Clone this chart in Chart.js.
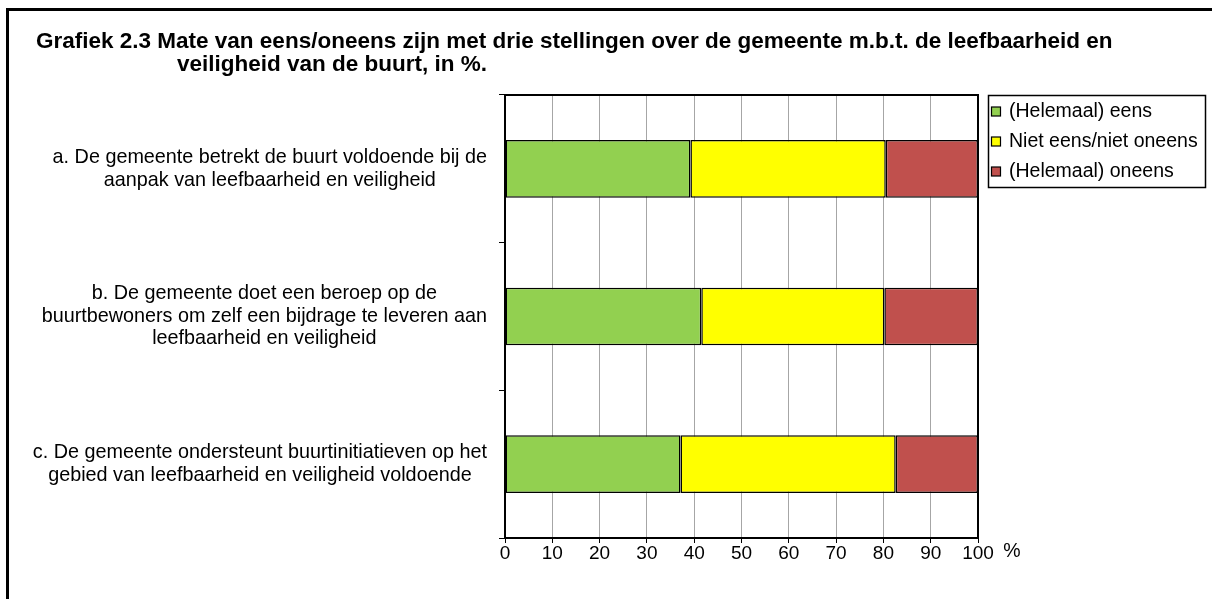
<!DOCTYPE html>
<html><head><meta charset="utf-8">
<script src="https://cdn.jsdelivr.net/npm/chart.js@4"></script>
<style>html,body{margin:0;padding:0;background:#fff}#wrap{width:1212px;height:599px;position:relative}</style>
</head><body><div id="wrap"><canvas id="c" width="1212" height="599"></canvas></div>
<script>
const titleLines = [
  "Grafiek 2.3 Mate van eens/oneens zijn met drie stellingen over de gemeente m.b.t. de leefbaarheid en",
  "veiligheid van de buurt, in %."
];
const categories = [
  ["a. De gemeente betrekt de buurt voldoende bij de", "aanpak van leefbaarheid en veiligheid"],
  ["b. De gemeente doet een beroep op de", "buurtbewoners om zelf een bijdrage te leveren aan", "leefbaarheid en veiligheid"],
  ["c. De gemeente ondersteunt buurtinitiatieven op het", "gebied van leefbaarheid en veiligheid voldoende"]
];
const seriesNames = ["(Helemaal) eens", "Niet eens/niet oneens", "(Helemaal) oneens"];
const eens = [39.2, 41.5, 37.1];
const neutraal = [41.3, 38.7, 45.5];
const oneens = [19.5, 19.8, 17.4];
const seriesColors = ["#92D050", "#FFFF00", "#C0504D"];
const xTicks = [0, 10, 20, 30, 40, 50, 60, 70, 80, 90, 100];
const xUnit = "%";

const FONT = "'Liberation Sans', Arial, sans-serif";

const overlay = {
  id: 'overlay',
  afterDraw(chart) {
    const ctx = chart.ctx;
    const a = chart.chartArea;
    const ys = chart.scales.y;
    ctx.save();
    // outer frame
    ctx.strokeStyle = '#000'; ctx.lineWidth = 3;
    ctx.beginPath(); ctx.moveTo(7.5, 599); ctx.lineTo(7.5, 9.5); ctx.lineTo(1212, 9.5); ctx.stroke();
    // plot top + right border
    ctx.lineWidth = 2;
    ctx.beginPath(); ctx.moveTo(a.left, a.top); ctx.lineTo(a.right, a.top); ctx.lineTo(a.right, a.bottom); ctx.stroke();
    // title
    ctx.fillStyle = '#000';
    ctx.font = "bold 22.5px " + FONT;
    ctx.textAlign = 'left'; ctx.textBaseline = 'middle';
    ctx.fillText(titleLines[0], 36, 42);
    ctx.fillText(titleLines[1], 177, 65);
    // category labels
    ctx.font = "19.8px " + FONT;
    ctx.textAlign = 'center';
    const lh = 22.5;
    categories.forEach((lines, i) => {
      const yc = ys.getPixelForValue(i);
      const w = Math.max(...lines.map(l => ctx.measureText(l).width));
      const cx = 487 - w / 2;
      lines.forEach((l, j) => {
        ctx.fillText(l, cx, yc + (j - (lines.length - 1) / 2) * lh);
      });
    });
    // unit
    ctx.font = "19.5px " + FONT;
    ctx.fillText(xUnit, 1012, a.bottom + 14);
    // legend
    ctx.lineWidth = 1.5; ctx.strokeStyle = '#000';
    ctx.strokeRect(988.5, 95.5, 217, 92);
    ctx.textAlign = 'left';
    chart.data.datasets.forEach((ds, i) => {
      const y = 112 + i * 30;
      ctx.fillStyle = ds.backgroundColor;
      ctx.fillRect(991.5, y - 5, 9, 9);
      ctx.lineWidth = 1.2;
      ctx.strokeRect(991.5, y - 5, 9, 9);
      ctx.fillStyle = '#000';
      ctx.fillText(ds.label, 1009, y);
    });
    ctx.restore();
  }
};

new Chart(document.getElementById('c'), {
  type: 'bar',
  data: {
    labels: categories,
    datasets: [
      { label: seriesNames[0], data: eens, backgroundColor: seriesColors[0] },
      { label: seriesNames[1], data: neutraal, backgroundColor: seriesColors[1] },
      { label: seriesNames[2], data: oneens, backgroundColor: seriesColors[2] }
    ].map(d => Object.assign(d, { borderColor: '#000', borderWidth: 1.5, borderSkipped: false, barPercentage: 0.39, categoryPercentage: 1 }))
  },
  options: {
    indexAxis: 'y',
    responsive: false,
    animation: false,
    devicePixelRatio: 1,
    layout: { padding: { top: 95, right: 234, left: 0, bottom: 0 } },
    plugins: { legend: { display: false }, title: { display: false }, tooltip: { enabled: false } },
    scales: {
      x: {
        type: 'linear', stacked: true, min: 0, max: 100,
        afterBuildTicks: s => { s.ticks = xTicks.map(v => ({ value: v })); },
        afterFit: s => { s.height = 61; },
        ticks: { color: '#000', font: { family: FONT, size: 19 }, padding: -1, maxRotation: 0, autoSkip: false },
        grid: { color: '#a6a6a6', lineWidth: 1, tickLength: 5, tickColor: '#000' },
        border: { color: '#000', width: 2 }
      },
      y: {
        type: 'category', stacked: true, offset: true,
        afterFit: s => { s.width = 505; },
        ticks: { display: false },
        grid: { offset: true, drawOnChartArea: false, tickLength: 6, color: '#000', lineWidth: 1 },
        border: { color: '#000', width: 2 }
      }
    }
  },
  plugins: [overlay]
});
</script></body></html>
